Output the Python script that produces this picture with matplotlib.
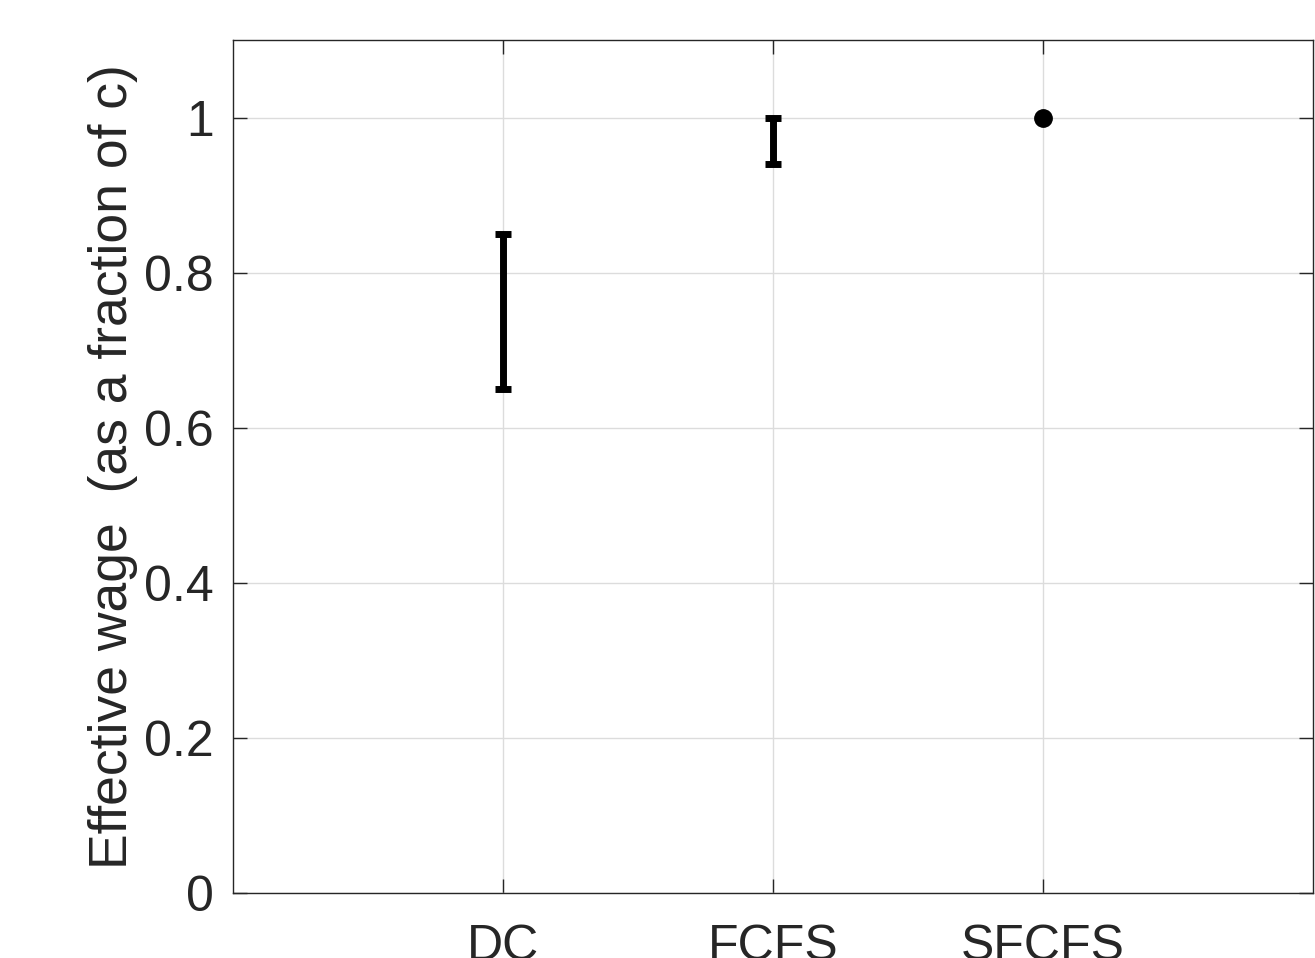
import matplotlib.pyplot as plt
import numpy as np

plt.rcParams['font.family'] = ['Liberation Sans', 'DejaVu Sans']

categories = ["DC", "FCFS", "SFCFS"]
low = [0.65, 0.94, 1.00]
high = [0.85, 1.00, 1.00]

x = np.arange(1, len(categories) + 1)
mid = [(a + b) / 2 for a, b in zip(low, high)]
err = [[m - a for m, a in zip(mid, low)], [b - m for m, b in zip(mid, high)]]

fig = plt.figure(figsize=(13.15, 9.58), dpi=100)
ax = fig.add_axes([0.1772, 0.0679, 0.821, 0.8903])

# range bars for the first two, a dot for the last
ax.errorbar(x[:2], mid[:2], yerr=[e[:2] for e in err], fmt='none',
            ecolor='black', elinewidth=5, capsize=6, capthick=5)
ax.plot(x[2], mid[2], 'o', color='black', markersize=12.5)

ax.set_xlim(0, 4)
ax.set_ylim(0, 1.1)
ax.set_xticks(x)
ax.set_xticklabels(categories)
ax.set_yticks([0, 0.2, 0.4, 0.6, 0.8, 1])
ax.set_yticklabels(['0', '0.2', '0.4', '0.6', '0.8', '1'])

ax.grid(True, color='#dcdcdc', linewidth=1)
ax.set_axisbelow(True)
for s in ax.spines.values():
    s.set_color('#262626')
    s.set_linewidth(1)
ax.tick_params(axis='both', direction='in', length=10, width=1,
               colors='#262626', labelsize=36, top=True, right=True)
ax.tick_params(axis='x', pad=22)
ax.tick_params(axis='y', pad=14)
ax.set_ylabel('Effective wage  (as a fraction of c)', fontsize=38.5,
              color='#262626', labelpad=4)

fig.savefig('out.png', dpi=100)
